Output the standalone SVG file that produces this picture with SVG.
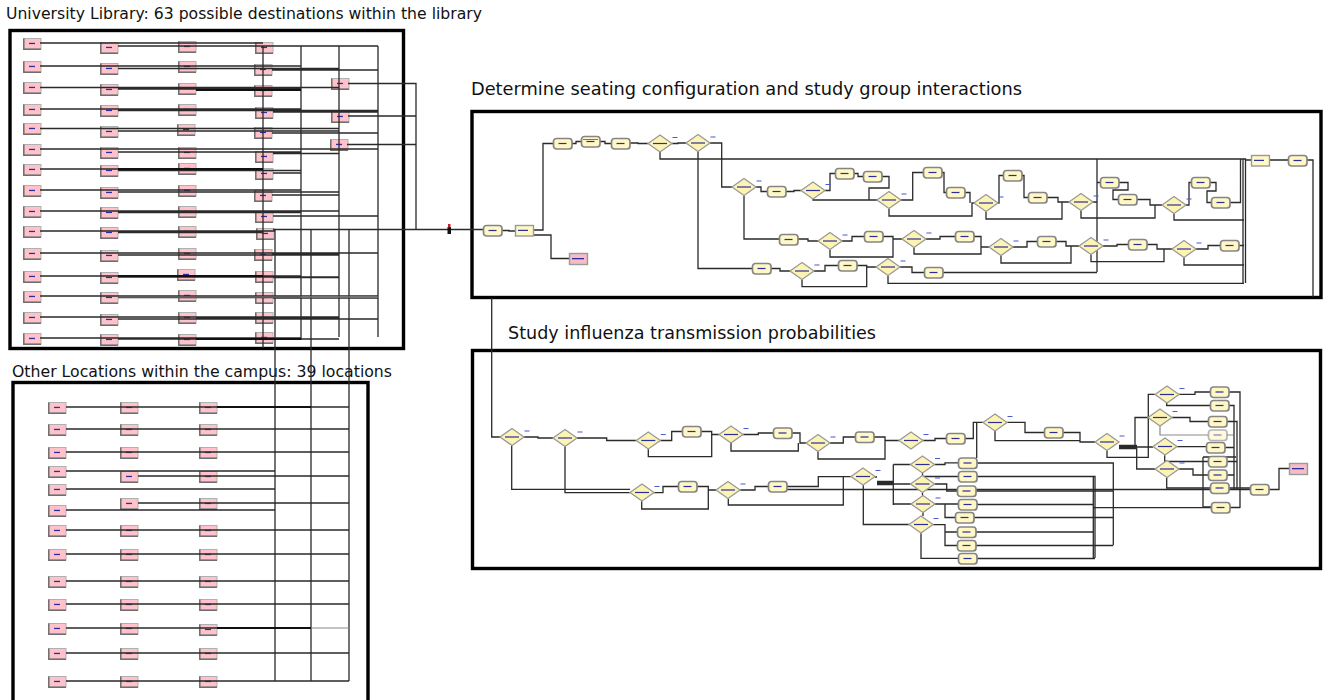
<svg xmlns="http://www.w3.org/2000/svg" xmlns:xlink="http://www.w3.org/1999/xlink" width="1324" height="700" viewBox="0 0 1324 700">
<style>
  text { font-family: "DejaVu Sans", Verdana, sans-serif; fill: #111; }
  .frame { fill: none; stroke: #000; stroke-width: 3.4; }
  .c  { fill: none; stroke: #2a2a2a; stroke-width: 1.3; }
  .ct { fill: none; stroke: #111; stroke-width: 2; }
  .cg { fill: none; stroke: #8a8a8a; stroke-width: 1.2; }
</style>
<defs>
  <!-- pink process block with shaded edge -->
  <g id="pk">
    <rect x="0.5" y="0.5" width="17.5" height="10.5" fill="#ffc2ca" stroke="#b0b0b0"/>
    <path d="M0.8,0.5V11.2H18" fill="none" stroke="#6e6e6e" stroke-width="1.5"/>
    <rect x="6" y="4.8" width="6" height="1.3" fill="#2a2f9e"/>
  </g>
  <!-- rounded yellow process block -->
  <g id="yr">
    <rect x="0.5" y="0.5" width="18.5" height="10.5" rx="3" fill="#fff8c4" stroke="#858585" stroke-width="1.7"/>
    <rect x="5.5" y="4.9" width="8" height="1.2" fill="#2a2f9e"/>
  </g>
  <!-- square yellow block -->
  <g id="ys">
    <rect x="0.5" y="0.5" width="18" height="10.5" fill="#fff8c4" stroke="#999" stroke-width="1.4"/>
    <rect x="3" y="4.8" width="10" height="1.2" fill="#2a2f9e"/>
  </g>
  <!-- decision diamond with branch label -->
  <g id="dm">
    <polygon points="0,8.5 12,0 24,8.5 12,17" fill="#fdf4b4" stroke="#999" stroke-width="1.3"/>
    <rect x="5" y="7.9" width="14" height="1.2" fill="#2a2f9e"/>
    <rect x="24.5" y="2" width="5" height="1" fill="#4a5acf"/>
  </g>
  <!-- pink dispose block -->
  <g id="pd">
    <rect x="0.5" y="0.5" width="18" height="11" fill="#f8bcc6" stroke="#9a9a9a" stroke-width="1.4"/>
    <rect x="3" y="5" width="12" height="1.3" fill="#2a2f9e"/>
  </g>
</defs>

<rect width="1324" height="700" fill="#fff"/>

<!-- section titles -->
<text x="6" y="19" font-size="15" textLength="476" lengthAdjust="spacingAndGlyphs">University Library: 63 possible destinations within the library</text>
<text x="471" y="95" font-size="17" textLength="551" lengthAdjust="spacingAndGlyphs">Determine seating configuration and study group interactions</text>
<text x="508" y="339" font-size="18" textLength="368" lengthAdjust="spacingAndGlyphs">Study influenza transmission probabilities</text>
<text x="12" y="377" font-size="16" textLength="380" lengthAdjust="spacingAndGlyphs">Other Locations within the campus: 39 locations</text>

<!-- section frames -->
<rect class="frame" x="10" y="30.5" width="393.5" height="318"/>
<rect class="frame" x="13" y="382.5" width="355" height="330"/>
<rect class="frame" x="472" y="111.5" width="849" height="186"/>
<rect class="frame" x="472.5" y="350.5" width="848" height="218"/>

<!-- library destination blocks -->
<g id="library-nodes">
  <g id="lib-r1-c1"><use xlink:href="#pk" x="23" y="38"/></g>
  <g id="lib-r2-c1"><use xlink:href="#pk" x="23" y="61"/></g>
  <g id="lib-r3-c1"><use xlink:href="#pk" x="23" y="82"/></g>
  <g id="lib-r4-c1"><use xlink:href="#pk" x="23" y="104"/></g>
  <g id="lib-r5-c1"><use xlink:href="#pk" x="23" y="123"/></g>
  <g id="lib-r6-c1"><use xlink:href="#pk" x="23" y="144"/></g>
  <g id="lib-r7-c1"><use xlink:href="#pk" x="23" y="164"/></g>
  <g id="lib-r8-c1"><use xlink:href="#pk" x="23" y="185"/></g>
  <g id="lib-r9-c1"><use xlink:href="#pk" x="23" y="206"/></g>
  <g id="lib-r10-c1"><use xlink:href="#pk" x="23" y="226"/></g>
  <g id="lib-r11-c1"><use xlink:href="#pk" x="23" y="248"/></g>
  <g id="lib-r12-c1"><use xlink:href="#pk" x="23" y="271"/></g>
  <g id="lib-r13-c1"><use xlink:href="#pk" x="23" y="291"/></g>
  <g id="lib-r14-c1"><use xlink:href="#pk" x="23" y="312"/></g>
  <g id="lib-r15-c1"><use xlink:href="#pk" x="23" y="333"/></g>

  <g id="lib-r1-c2"><use xlink:href="#pk" x="100" y="42"/></g>
  <g id="lib-r2-c2"><use xlink:href="#pk" x="100" y="63"/></g>
  <g id="lib-r3-c2"><use xlink:href="#pk" x="100" y="84"/></g>
  <g id="lib-r4-c2"><use xlink:href="#pk" x="100" y="105"/></g>
  <g id="lib-r5-c2"><use xlink:href="#pk" x="100" y="126"/></g>
  <g id="lib-r6-c2"><use xlink:href="#pk" x="100" y="147"/></g>
  <g id="lib-r7-c2"><use xlink:href="#pk" x="100" y="165"/></g>
  <g id="lib-r8-c2"><use xlink:href="#pk" x="100" y="187"/></g>
  <g id="lib-r9-c2"><use xlink:href="#pk" x="100" y="207"/></g>
  <g id="lib-r10-c2"><use xlink:href="#pk" x="100" y="227"/></g>
  <g id="lib-r11-c2"><use xlink:href="#pk" x="100" y="250"/></g>
  <g id="lib-r12-c2"><use xlink:href="#pk" x="100" y="272"/></g>
  <g id="lib-r13-c2"><use xlink:href="#pk" x="100" y="292"/></g>
  <g id="lib-r14-c2"><use xlink:href="#pk" x="100" y="314"/></g>
  <g id="lib-r15-c2"><use xlink:href="#pk" x="100" y="334"/></g>

  <g id="lib-r1-c3"><use xlink:href="#pk" x="178" y="41"/></g>
  <g id="lib-r2-c3"><use xlink:href="#pk" x="178" y="61"/></g>
  <g id="lib-r3-c3"><use xlink:href="#pk" x="178" y="83"/></g>
  <g id="lib-r4-c3"><use xlink:href="#pk" x="178" y="104"/></g>
  <g id="lib-r5-c3"><use xlink:href="#pk" x="177" y="124"/></g>
  <g id="lib-r6-c3"><use xlink:href="#pk" x="178" y="147"/></g>
  <g id="lib-r7-c3"><use xlink:href="#pk" x="178" y="163"/></g>
  <g id="lib-r8-c3"><use xlink:href="#pk" x="178" y="185"/></g>
  <g id="lib-r9-c3"><use xlink:href="#pk" x="178" y="206"/></g>
  <g id="lib-r10-c3"><use xlink:href="#pk" x="178" y="226"/></g>
  <g id="lib-r11-c3"><use xlink:href="#pk" x="178" y="248"/></g>
  <g id="lib-r12-c3"><use xlink:href="#pk" x="177" y="269"/></g>
  <g id="lib-r13-c3"><use xlink:href="#pk" x="178" y="290"/></g>
  <g id="lib-r14-c3"><use xlink:href="#pk" x="178" y="312"/></g>
  <g id="lib-r15-c3"><use xlink:href="#pk" x="178" y="334"/></g>

  <g id="lib-r1-c4"><use xlink:href="#pk" x="255" y="42"/></g>
  <g id="lib-r2-c4"><use xlink:href="#pk" x="254" y="64"/></g>
  <g id="lib-r3-c4"><use xlink:href="#pk" x="254" y="85"/></g>
  <g id="lib-r4-c4"><use xlink:href="#pk" x="255" y="107"/></g>
  <g id="lib-r5-c4"><use xlink:href="#pk" x="254" y="127"/></g>
  <g id="lib-r6-c4"><use xlink:href="#pk" x="255" y="151"/></g>
  <g id="lib-r7-c4"><use xlink:href="#pk" x="255" y="168"/></g>
  <g id="lib-r8-c4"><use xlink:href="#pk" x="254" y="190"/></g>
  <g id="lib-r9-c4"><use xlink:href="#pk" x="255" y="211"/></g>
  <g id="lib-r10-c4"><use xlink:href="#pk" x="256" y="228"/></g>
  <g id="lib-r11-c4"><use xlink:href="#pk" x="254" y="249"/></g>
  <g id="lib-r12-c4"><use xlink:href="#pk" x="255" y="271"/></g>
  <g id="lib-r13-c4"><use xlink:href="#pk" x="255" y="292"/></g>
  <g id="lib-r14-c4"><use xlink:href="#pk" x="255" y="312"/></g>
  <g id="lib-r15-c4"><use xlink:href="#pk" x="255" y="332"/></g>

  <g id="lib-x1"><use xlink:href="#pk" x="331" y="78"/></g>
  <g id="lib-x2"><use xlink:href="#pk" x="331" y="111"/></g>
  <g id="lib-x3"><use xlink:href="#pk" x="330" y="139"/></g>
</g>

<!-- campus location blocks -->
<g id="campus-nodes">
  <g id="loc-r1-c1"><use xlink:href="#pk" x="48" y="402"/></g>
  <g id="loc-r2-c1"><use xlink:href="#pk" x="48" y="424"/></g>
  <g id="loc-r3-c1"><use xlink:href="#pk" x="48" y="447"/></g>
  <g id="loc-r4-c1"><use xlink:href="#pk" x="48" y="466"/></g>
  <g id="loc-r5-c1"><use xlink:href="#pk" x="48" y="484"/></g>
  <g id="loc-r6-c1"><use xlink:href="#pk" x="48" y="505"/></g>
  <g id="loc-r7-c1"><use xlink:href="#pk" x="48" y="525"/></g>
  <g id="loc-r8-c1"><use xlink:href="#pk" x="48" y="549"/></g>
  <g id="loc-r9-c1"><use xlink:href="#pk" x="48" y="576"/></g>
  <g id="loc-r10-c1"><use xlink:href="#pk" x="48" y="599"/></g>
  <g id="loc-r11-c1"><use xlink:href="#pk" x="48" y="623"/></g>
  <g id="loc-r12-c1"><use xlink:href="#pk" x="48" y="648"/></g>
  <g id="loc-r13-c1"><use xlink:href="#pk" x="48" y="676"/></g>

  <g id="loc-r1-c2"><use xlink:href="#pk" x="120" y="402"/></g>
  <g id="loc-r2-c2"><use xlink:href="#pk" x="120" y="424"/></g>
  <g id="loc-r3-c2"><use xlink:href="#pk" x="120" y="447"/></g>
  <g id="loc-r4-c2"><use xlink:href="#pk" x="120" y="471"/></g>
  <g id="loc-r5-c2"><use xlink:href="#pk" x="120" y="498"/></g>
  <g id="loc-r6-c2"><use xlink:href="#pk" x="120" y="525"/></g>
  <g id="loc-r7-c2"><use xlink:href="#pk" x="120" y="549"/></g>
  <g id="loc-r8-c2"><use xlink:href="#pk" x="120" y="576"/></g>
  <g id="loc-r9-c2"><use xlink:href="#pk" x="120" y="599"/></g>
  <g id="loc-r10-c2"><use xlink:href="#pk" x="120" y="623"/></g>
  <g id="loc-r11-c2"><use xlink:href="#pk" x="120" y="648"/></g>
  <g id="loc-r12-c2"><use xlink:href="#pk" x="120" y="676"/></g>

  <g id="loc-r1-c3"><use xlink:href="#pk" x="199" y="402"/></g>
  <g id="loc-r2-c3"><use xlink:href="#pk" x="199" y="424"/></g>
  <g id="loc-r3-c3"><use xlink:href="#pk" x="199" y="447"/></g>
  <g id="loc-r4-c3"><use xlink:href="#pk" x="199" y="471"/></g>
  <g id="loc-r5-c3"><use xlink:href="#pk" x="199" y="498"/></g>
  <g id="loc-r6-c3"><use xlink:href="#pk" x="199" y="525"/></g>
  <g id="loc-r7-c3"><use xlink:href="#pk" x="199" y="549"/></g>
  <g id="loc-r8-c3"><use xlink:href="#pk" x="199" y="576"/></g>
  <g id="loc-r9-c3"><use xlink:href="#pk" x="199" y="599"/></g>
  <g id="loc-r10-c3"><use xlink:href="#pk" x="199" y="624"/></g>
  <g id="loc-r11-c3"><use xlink:href="#pk" x="199" y="648"/></g>
  <g id="loc-r12-c3"><use xlink:href="#pk" x="199" y="676"/></g>
</g>

<g id="connectors">
  <!-- library routing -->
  <g id="library-links">
    <path class="c" d="M263,46V348M301,46V340M339,46V337M378,46V337"/>
    <path class="c" d="M275,229.5V681M311,229.5V681M349,229.5V681"/>
    <path class="c" d="M348,83.5H416V229.5M348,116H416M347,144.5H416"/>
    <path class="c" d="M40,43H263M118,46H378"/>
    <path class="c" d="M40,66H301M118,68.5H339M272,70H378"/>
    <path class="c" d="M40,87.5H339M118,89H301"/>
    <path class="ct" d="M196,90H301"/>
    <path class="c" d="M40,109H301M118,110.5H378M273,112H378"/>
    <path class="c" d="M40,128.5H339M118,131H339M272,133H378"/>
    <path class="c" d="M40,149H378M118,152H301M273,153.5H339"/>
    <path class="c" d="M40,169H263M273,173H301M118,170.5H301"/>
    <path class="ct" d="M118,169H263"/>
    <path class="c" d="M40,190H301M118,192H339M272,195H339"/>
    <path class="c" d="M40,211H339M118,212.5H301M273,216H378"/>
    <path class="c" d="M40,231H275M118,232.5H263"/>
    <path class="c" d="M40,253H378M118,255H339M272,254.5H339"/>
    <path class="c" d="M40,276H301M118,277H339M273,277.5H339"/>
    <path class="ct" d="M118,276H263"/>
    <path class="c" d="M40,296H378M118,297.5H301M273,298H378"/>
    <path class="cg" d="M118,297H378" stroke-width="1.8"/>
    <path class="c" d="M40,317H339M118,319H378M196,317.5H339"/>
    <path class="c" d="M40,338H301M118,339H339"/>
    <path class="ct" d="M196,339H301"/>
  </g>

  <!-- campus routing -->
  <g id="campus-links">
    <path class="c" d="M66,407H349"/>
    <path class="ct" d="M217,407H311"/>
    <path class="c" d="M66,429H349M66,452H349M66,471H275M138,476H349M66,489H275M138,503H349M66,510H275"/>
    <path class="c" d="M66,530H349M66,554H349M66,581H349M66,604H349M66,628H311M66,653H349M66,681H349"/>
    <path class="ct" d="M217,628H311"/>
    <path class="cg" d="M311,628H349"/>
  </g>

  <!-- seating configuration flow -->
  <g id="seating-links">
    <path class="c" d="M273,229.5H483"/>
    <path class="c" d="M502,230.5H509V231H516M533,230H543V143.5H553M533,235H551V258.5H569"/>
    <path class="c" d="M572,143.5H576V141.5H581M600,141.5H605V143.5H611M630,143H638V143.5H648M672,143.5H678V143H686"/>
    <path class="c" d="M660,152V159H1243M710,143H721.7V187H732M698,151.5V268.5H752"/>
    <path class="c" d="M756,187H761V191.5H767M744,195.5V239H779M786,191.5H794V190.5H801M825,190.5H830V173.5H835M854,173.5H858V176.5H863"/>
    <path class="c" d="M882,176.5H889V188H869V200M813,199V200H877"/>
    <path class="c" d="M901,200H912.7V172.5H923M942,172.5H944V192.5H946M889,208.5V216H972V203H974M965,192.5H970V203"/>
    <path class="c" d="M998,203H999V175.5H1003M1022,175.5H1024V197.5H1028M1047,197.5H1058V202H1069M986,211.5V219H1062V202"/>
    <path class="c" d="M1093,202H1097M1097,159V272M1097,182.5H1100M1119,182.5H1128V190H1113V199.5H1118M1137,199.5H1150V205H1162M1081,210.5V218H1155V205"/>
    <path class="c" d="M1186,205H1189V182.5H1191M1210,182.5H1216V191H1207V202.5H1211M1230,202.5H1240.5V159M1174,213.5V220H1244"/>
    <path class="c" d="M1243,159V283M1245.5,159V283M1243,159H1245.5V160H1251M1269,160H1288M1307,160H1313V297"/>
    <path class="c" d="M798,239H808V241H818M842,241H852V236.5H864M883,236.5H893V239H902M830,249.5V257H893V239"/>
    <path class="c" d="M926,239H940V236.5H955M914,247.5V254H981V247H989M974,236.5H981V247"/>
    <path class="c" d="M1013,247H1027V241.5H1037M1001,255.5V263H1071V246H1079M1056,241.5H1066V246H1071"/>
    <path class="c" d="M1103,246H1117V244.5H1128M1091,254.5V261.7H1164V249H1172M1147,244.5H1157V249H1164"/>
    <path class="c" d="M1196,249H1208V245.5H1220M1184,257.5V265H1244M1239,245.5H1244"/>
    <path class="c" d="M771,268.5H780V271H790M814,271H825V265.5H838M857,265.5H866.7V267H876M802,279.5V286.7H866.7V267"/>
    <path class="c" d="M900,267H912V272.5H924M943,272.5H1097M888,275.5V283.3H1244"/>
  </g>

  <!-- transmission probability flow -->
  <g id="influenza-links">
    <path class="c" d="M491.7,298V437H500"/>
    <path class="c" d="M523.7,437H538V438H553M511.7,445.5V489.3H630M565,446.5V492.7H630M577,438H606.7V440.5H636.3"/>
    <path class="c" d="M660.3,440.5H671.7V431.5H682M701,431.5H711.7V434.5H719M648.3,449V456.7H711.7V434.5"/>
    <path class="c" d="M743,434.5H758.3V433H773M792,433H800V443H806M731,443V451H798.3V443"/>
    <path class="c" d="M830,443H843.3V437H855M874,437H885V440.5H899M818,451.5V459H885V440.5"/>
    <path class="c" d="M922.8,440.5H935V438.5H946M965,438.5H973.3V422.3H983M976.7,422.3V458"/>
    <path class="c" d="M1007,422.3H1025V432.5H1044M995,430.8V440.7H1080V442H1095M1063,432.5H1080V440.7"/>
    <path class="c" d="M1119,445.5H1137M1119,447H1153M1119,448.5H1137M1135,446V417.5H1148M1136.7,448V469H1155"/>
    <path class="c" d="M1107,450.5V457.3H1148.3V394.3H1155"/>
    <path class="c" d="M1178.7,394.3H1195V392H1210M1166.7,402.8V405.5H1210M1172,417.5H1190V421.5H1208"/>
    <path class="cg" d="M1160,426V435H1208M1227,435H1233"/>
    <path class="c" d="M1176.7,446.7H1206M1164.7,455.2V461.5H1208M1178.7,469H1193V475H1208M1166.7,477.5V488H1210"/>
    <path class="c" d="M1229,392H1240V508M1230,507.5H1240M1229,405.5H1234V489M1227,421.5H1237V489M1225,447.5H1234M1227,461.5H1237M1227,475H1234M1229,488H1250"/>
    <path class="c" d="M1203,457V507M1203,457H1236M1203,507H1211"/>
    <path class="c" d="M1269,489.5H1279V468.5H1289"/>
    <path class="c" d="M653.7,492.7H663V486.5H678M697,486.5H708.3V490H716M641.7,501.2V509H708.3V490"/>
    <path class="c" d="M740.3,490H755V486.5H768M787,486.5H818.3V476.7H851M787,489.5H1250M728.3,498.5V505H843.3V476.7"/>
    <path class="c" d="M875,477H877M877,481.5H893M877,483H893M877,484.5H893M893.3,464.5V505M893.3,464.5H910.5M893.3,484H910.5M893.3,504H911"/>
    <path class="c" d="M863.3,485.2V524.5H909"/>
    <path class="c" d="M934.5,464.5H945V462.8H958M922.5,473V476.5H958M934.5,484H946.7V491H957M922.5,492.5V495.5"/>
    <path class="c" d="M935,504H958M945,504V517.5H955M923,512.5V516M933,524.7H945V532H957M945,532V545.5H957M921,533.2V558.3H958"/>
    <path class="c" d="M977,463H1113.3V545M977,476.5H1095V558M976,491H1113M977,504.5H1093.3M974,517.5H1113.3M976,532H1093.3M976,545.5H1113.3M977,558.5H1095"/>
    <path class="c" d="M1093.3,476.5V558M1093.3,507.7H1211"/>
  </g>
</g>

<!-- gateway between the library and the seating model -->
<g id="route-marker">
  <rect x="447.5" y="227" width="3.5" height="7" fill="#111"/>
  <rect x="448" y="224" width="2.5" height="3.5" fill="#c0202a"/>
</g>

<!-- seating configuration blocks -->
<g id="seating-nodes">
  <g id="s-entry"><use xlink:href="#yr" x="483" y="225"/></g>
  <g id="s-assign"><use xlink:href="#ys" x="515" y="225"/></g>
  <g id="s-exit"><use xlink:href="#pd" x="569" y="253"/></g>
  <g id="s-n1"><use xlink:href="#yr" x="553" y="138"/></g>
  <g id="s-n2"><use xlink:href="#yr" x="581" y="136"/><path d="M583,139.5H598" stroke="#555" stroke-width="0.8"/></g>
  <g id="s-n3"><use xlink:href="#yr" x="611" y="138"/></g>
  <g id="s-d1"><use xlink:href="#dm" x="648" y="135"/></g>
  <g id="s-d2"><use xlink:href="#dm" x="686" y="134.5"/></g>
  <g id="s-d3"><use xlink:href="#dm" x="732" y="178.5"/></g>
  <g id="s-n4"><use xlink:href="#yr" x="767" y="186"/></g>
  <g id="s-d4"><use xlink:href="#dm" x="801" y="182"/></g>
  <g id="s-n5"><use xlink:href="#yr" x="835" y="168"/></g>
  <g id="s-n6"><use xlink:href="#yr" x="863" y="171"/></g>
  <g id="s-n7"><use xlink:href="#yr" x="779" y="234"/></g>
  <g id="s-d5"><use xlink:href="#dm" x="818" y="232.5"/></g>
  <g id="s-n8"><use xlink:href="#yr" x="864" y="231"/></g>
  <g id="s-n9"><use xlink:href="#yr" x="752" y="263"/></g>
  <g id="s-d6"><use xlink:href="#dm" x="790" y="262.5"/></g>
  <g id="s-n10"><use xlink:href="#yr" x="838" y="260"/></g>
  <g id="s-d7"><use xlink:href="#dm" x="876" y="258.5"/></g>
  <g id="s-n11"><use xlink:href="#yr" x="924" y="267"/></g>
  <g id="s-d8"><use xlink:href="#dm" x="877" y="191.5"/></g>
  <g id="s-n12"><use xlink:href="#yr" x="923" y="167"/></g>
  <g id="s-n13"><use xlink:href="#yr" x="946" y="187"/></g>
  <g id="s-d9"><use xlink:href="#dm" x="974" y="194.5"/></g>
  <g id="s-n14"><use xlink:href="#yr" x="1003" y="170"/></g>
  <g id="s-n15"><use xlink:href="#yr" x="1028" y="192"/></g>
  <g id="s-d10"><use xlink:href="#dm" x="1069" y="193.5"/></g>
  <g id="s-n16"><use xlink:href="#yr" x="1100" y="177"/></g>
  <g id="s-n17"><use xlink:href="#yr" x="1118" y="194"/></g>
  <g id="s-d11"><use xlink:href="#dm" x="1162" y="196.5"/></g>
  <g id="s-n18"><use xlink:href="#yr" x="1191" y="177"/></g>
  <g id="s-n19"><use xlink:href="#yr" x="1211" y="197"/></g>
  <g id="s-d12"><use xlink:href="#dm" x="902" y="230.5"/></g>
  <g id="s-n20"><use xlink:href="#yr" x="955" y="231"/></g>
  <g id="s-d13"><use xlink:href="#dm" x="989" y="238.5"/></g>
  <g id="s-n21"><use xlink:href="#yr" x="1037" y="236"/></g>
  <g id="s-d14"><use xlink:href="#dm" x="1079" y="237.5"/></g>
  <g id="s-n22"><use xlink:href="#yr" x="1128" y="239"/></g>
  <g id="s-d15"><use xlink:href="#dm" x="1172" y="240.5"/></g>
  <g id="s-n23"><use xlink:href="#yr" x="1220" y="240"/></g>
  <g id="s-collect"><use xlink:href="#ys" x="1251" y="155"/></g>
  <g id="s-out"><use xlink:href="#yr" x="1288" y="155"/></g>
</g>

<!-- transmission probability blocks -->
<g id="influenza-nodes">
  <g id="f-d1"><use xlink:href="#dm" x="500" y="428.5"/></g>
  <g id="f-d2"><use xlink:href="#dm" x="553" y="429.5"/></g>
  <g id="f-d3"><use xlink:href="#dm" x="636.3" y="432"/></g>
  <g id="f-n1"><use xlink:href="#yr" x="682" y="426"/></g>
  <g id="f-d4"><use xlink:href="#dm" x="719" y="426"/></g>
  <g id="f-n2"><use xlink:href="#yr" x="773" y="427.5"/></g>
  <g id="f-d5"><use xlink:href="#dm" x="806" y="434.5"/></g>
  <g id="f-n3"><use xlink:href="#yr" x="855" y="431.5"/></g>
  <g id="f-d6"><use xlink:href="#dm" x="899" y="432"/></g>
  <g id="f-n4"><use xlink:href="#yr" x="946" y="433"/></g>
  <g id="f-d7"><use xlink:href="#dm" x="983" y="414"/></g>
  <g id="f-n5"><use xlink:href="#yr" x="1044" y="427"/></g>
  <g id="f-d8"><use xlink:href="#dm" x="1095" y="433.5"/></g>
  <g id="f-d9"><use xlink:href="#dm" x="1155" y="386"/></g>
  <g id="f-d10"><use xlink:href="#dm" x="1148" y="409"/></g>
  <g id="f-d11"><use xlink:href="#dm" x="1153" y="438"/></g>
  <g id="f-d12"><use xlink:href="#dm" x="1155" y="460.5"/></g>
  <g id="f-r1"><use xlink:href="#yr" x="1210" y="386.5"/></g>
  <g id="f-r2"><use xlink:href="#yr" x="1210" y="400"/></g>
  <g id="f-r3"><use xlink:href="#yr" x="1208" y="416"/></g>
  <g id="f-r4" opacity="0.6"><use xlink:href="#yr" x="1208" y="429.5"/></g>
  <g id="f-r5"><use xlink:href="#yr" x="1206" y="442"/></g>
  <g id="f-r6"><use xlink:href="#yr" x="1208" y="456"/></g>
  <g id="f-r7"><use xlink:href="#yr" x="1208" y="469.5"/></g>
  <g id="f-r8"><use xlink:href="#yr" x="1210" y="482.5"/></g>
  <g id="f-r9"><use xlink:href="#yr" x="1211" y="502"/></g>
  <g id="f-out"><use xlink:href="#yr" x="1250" y="484"/></g>
  <g id="f-exit"><use xlink:href="#pd" x="1289" y="463"/></g>
  <g id="f-d13"><use xlink:href="#dm" x="630" y="484"/></g>
  <g id="f-n6"><use xlink:href="#yr" x="678" y="481"/></g>
  <g id="f-d14"><use xlink:href="#dm" x="716" y="481.5"/></g>
  <g id="f-n7"><use xlink:href="#yr" x="768" y="481"/></g>
  <g id="f-d15"><use xlink:href="#dm" x="851" y="468"/></g>
  <g id="f-d16"><use xlink:href="#dm" x="910.5" y="456"/></g>
  <g id="f-d17"><use xlink:href="#dm" x="910.5" y="475.5"/></g>
  <g id="f-d18"><use xlink:href="#dm" x="911" y="495.5"/></g>
  <g id="f-d19"><use xlink:href="#dm" x="909" y="516"/></g>
  <g id="f-l1"><use xlink:href="#yr" x="958" y="457.5"/></g>
  <g id="f-l2"><use xlink:href="#yr" x="958" y="471"/></g>
  <g id="f-l3"><use xlink:href="#yr" x="957" y="485.5"/></g>
  <g id="f-l4"><use xlink:href="#yr" x="958" y="499"/></g>
  <g id="f-l5"><use xlink:href="#yr" x="955" y="512"/></g>
  <g id="f-l6"><use xlink:href="#yr" x="957" y="526.5"/></g>
  <g id="f-l7"><use xlink:href="#yr" x="957" y="540"/></g>
  <g id="f-l8"><use xlink:href="#yr" x="958" y="553"/></g>
</g>
</svg>
